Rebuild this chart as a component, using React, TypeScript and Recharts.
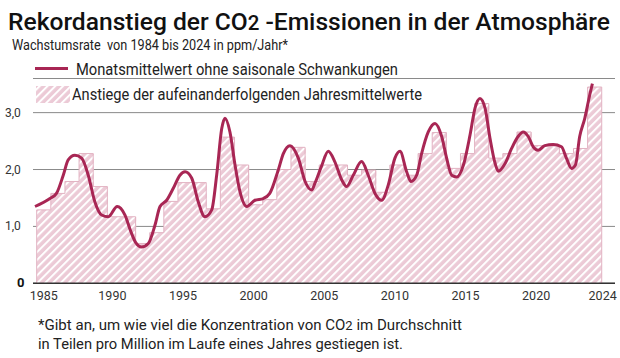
import React from 'react';
import { ComposedChart, Bar, Line, XAxis, YAxis, CartesianGrid, ReferenceLine } from 'recharts';

const years = [
  1985, 1986, 1987, 1988, 1989, 1990, 1991, 1992, 1993, 1994,
  1995, 1996, 1997, 1998, 1999, 2000, 2001, 2002, 2003, 2004,
  2005, 2006, 2007, 2008, 2009, 2010, 2011, 2012, 2013, 2014,
  2015, 2016, 2017, 2018, 2019, 2020, 2021, 2022, 2023, 2024,
];
const annualIncrease = [
  1.29, 1.58, 1.79, 2.28, 1.70, 1.17, 1.17, 0.70, 0.89, 1.44,
  1.77, 1.77, 1.31, 2.57, 2.08, 1.38, 1.47, 2.00, 2.39, 1.79,
  2.08, 2.08, 1.90, 1.99, 1.60, 2.08, 1.90, 2.28, 2.65, 2.02,
  2.28, 3.16, 2.20, 2.28, 2.66, 2.42, 2.42, 2.28, 2.37, 3.45,
];
const monthlyTimes = [
  1984.38, 1985.44, 1985.9, 1986.38, 1986.73, 1987.2, 1987.68, 1988.15, 1988.62, 1989.1,
  1989.57, 1990.2, 1990.75, 1991.15, 1991.5, 1991.93, 1992.4, 1992.87, 1993.23, 1993.7,
  1994.17, 1994.64, 1995.0, 1995.47, 1995.94, 1996.41, 1996.89, 1997.24, 1997.6, 1997.83,
  1998.18, 1998.54, 1998.89, 1999.37, 1999.95, 2000.54, 2001.0, 2001.6, 2001.96, 2002.43,
  2003.02, 2003.5, 2003.97, 2004.2, 2004.65, 2005.14, 2005.6, 2006.09, 2006.44, 2006.91,
  2007.5, 2007.97, 2008.45, 2008.92, 2009.39, 2009.86, 2010.22, 2010.69, 2011.0, 2011.4,
  2011.75, 2012.22, 2012.7, 2013.17, 2013.52, 2013.88, 2014.24, 2014.71, 2015.18, 2015.53,
  2015.88, 2016.24, 2016.59, 2016.95, 2017.18, 2017.65, 2018.12, 2018.58, 2018.94, 2019.3,
  2019.65, 2020.0, 2020.47, 2021.06, 2021.65, 2022.0, 2022.36, 2022.64, 2022.94, 2023.3,
  2023.65, 2023.84,
];
const monthlyValues = [
  1.35, 1.49, 1.58, 1.90, 2.17, 2.25, 2.20, 1.90, 1.43, 1.20,
  1.17, 1.35, 1.20, 0.92, 0.72, 0.64, 0.70, 1.02, 1.35, 1.46,
  1.67, 1.90, 1.96, 1.85, 1.43, 1.17, 1.29, 1.90, 2.72, 2.90,
  2.66, 2.08, 1.61, 1.35, 1.46, 1.49, 1.58, 1.99, 2.28, 2.42,
  2.20, 1.79, 1.64, 1.76, 2.05, 2.32, 2.14, 1.82, 1.70, 1.90,
  2.14, 1.90, 1.58, 1.46, 1.73, 2.20, 2.32, 1.96, 1.79, 1.90,
  2.28, 2.66, 2.81, 2.58, 2.20, 1.90, 1.87, 2.08, 2.61, 3.08,
  3.25, 3.08, 2.55, 2.11, 1.97, 2.10, 2.37, 2.58, 2.66, 2.58,
  2.40, 2.34, 2.42, 2.44, 2.40, 2.20, 2.02, 2.08, 2.58, 2.90,
  3.31, 3.51,
];
const xTicks = [1985, 1990, 1995, 2000, 2005, 2010, 2015, 2020, 2024];
const yTicks = [0, 1, 2, 3];
const yTickLabels = ['0', '1,0', '2,0', '3,0'];

const titleText = 'Rekordanstieg der CO';
const titleSub = '2';
const titleRest = ' -Emissionen in der Atmosphäre';
const subtitleText = 'Wachstumsrate  von 1984 bis 2024 in ppm/Jahr*';
const legendLine = 'Monatsmittelwert ohne saisonale Schwankungen';
const legendBars = 'Anstiege der aufeinanderfolgenden Jahresmittelwerte';
const footLine1a = '*Gibt an, um wie viel die Konzentration von CO';
const footLine1b = ' im Durchschnitt';
const footLine2 = 'in Teilen pro Million im Laufe eines Jahres gestiegen ist.';

const barData = years.map((year, i) => ({ year, value: annualIncrease[i] }));
const lineData = monthlyTimes.map((year, i) => ({ year, value: monthlyValues[i] }));

const LINE_COLOR = '#a82654';
const STRIPE = '#eccad6';
const OUTLINE = '#e2b2c2';
const FONT = "'Roboto', 'Liberation Sans', sans-serif";

const HatchDefs = ({ id }: { id: string }) => (
  <defs>
    <pattern id={id} patternUnits="userSpaceOnUse" width={5.5} height={5.5} patternTransform="rotate(45)">
      <rect x={0} y={0} width={5.5} height={5.5} fill={STRIPE} />
      <rect x={0} y={0} width={2} height={5.5} fill="#ffffff" />
    </pattern>
  </defs>
);

const HatchBar = (props: any) => {
  const { x, y, width, height, index } = props;
  const v = annualIncrease[index];
  const base = y + height;
  const perUnit = v > 0 ? height / v : 0;
  const prevTop = index > 0 ? base - annualIncrease[index - 1] * perUnit : base;
  const isLast = index === annualIncrease.length - 1;
  let d = `M${x},${prevTop}L${x},${y}L${x + width},${y}`;
  if (isLast) d += `L${x + width},${base}`;
  return (
    <g>
      <rect x={x} y={y} width={isLast ? width : width + 0.6} height={height} fill="url(#hatchMain)" />
      <path d={d} fill="none" stroke={OUTLINE} strokeWidth={1} />
    </g>
  );
};

const YTick = (props: any) => {
  const { y, payload } = props;
  const idx = yTicks.indexOf(payload.value);
  const isZero = payload.value === 0;
  return (
    <text
      x={isZero ? 17 : 5}
      y={y}
      dy={4}
      fontFamily={FONT}
      fontSize={isZero ? 13 : 12}
      fontWeight={isZero ? 700 : 400}
      fill={isZero ? '#111' : '#333'}
    >
      {yTickLabels[idx]}
    </text>
  );
};

const XTick = (props: any) => {
  const { x, y, payload, index } = props;
  const last = payload.value === xTicks[xTicks.length - 1];
  return (
    <text
      x={x}
      y={y}
      dy={9}
      dx={last ? 8 : index === 0 ? 0 : -2}
      textAnchor="middle"
      fontFamily={FONT}
      fontSize={12.5}
      fill="#333"
    >
      {payload.value}
    </text>
  );
};

export default function App() {
  return (
    <div style={{ position: 'absolute', left: 0, top: 0, width: 620, height: 358, background: '#fff', overflow: 'hidden' }}>
      <ComposedChart
        width={620}
        height={358}
        data={barData}
        margin={{ top: 78.5, right: 5, bottom: 44.7, left: 0 }}
      >
        <HatchDefs id="hatchMain" />
        <CartesianGrid horizontal vertical={false} stroke="#8a8a8a" strokeWidth={1} />
        <XAxis
          xAxisId="bars"
          dataKey="year"
          type="number"
          domain={[1984.238, 2025.44]}
          allowDataOverflow
          ticks={xTicks}
          tick={<XTick />}
          tickLine={false}
          axisLine={false}
          height={30}
          interval={0}
        />
        <XAxis
          xAxisId="line"
          dataKey="year"
          type="number"
          domain={[1984.238, 2025.44]}
          allowDataOverflow
          hide
        />
        <YAxis
          type="number"
          domain={[0, 3.6]}
          ticks={yTicks}
          tick={<YTick />}
          tickLine={false}
          axisLine={false}
          width={33}
          interval={0}
        />
        <Bar
          xAxisId="bars"
          dataKey="value"
          barSize={14.125}
          shape={<HatchBar />}
          isAnimationActive={false}
        />
        <ReferenceLine xAxisId="bars" y={0} stroke="#333" strokeWidth={1.6} />
        <Line
          xAxisId="line"
          data={lineData}
          dataKey="value"
          type="monotone"
          stroke={LINE_COLOR}
          strokeWidth={3}
          dot={false}
          activeDot={false}
          isAnimationActive={false}
        />
      </ComposedChart>
      <svg width={620} height={358} style={{ position: 'absolute', left: 0, top: 0, pointerEvents: 'none' }}>
        <HatchDefs id="hatchLegend" />
        <text x={8} y={30} fontFamily={FONT} fontSize={24} fontWeight={500} fill="#111" textLength={602} lengthAdjust="spacingAndGlyphs">
          {titleText}
          <tspan fontSize={20}>{titleSub}</tspan>
          {titleRest}
        </text>
        <text x={12} y={49.5} fontFamily={FONT} fontSize={14} fill="#222" textLength={276} lengthAdjust="spacingAndGlyphs" style={{ whiteSpace: 'pre' }}>
          {subtitleText}
        </text>
        <line x1={35} y1={68.5} x2={68} y2={68.5} stroke={LINE_COLOR} strokeWidth={3} />
        <text x={76} y={75} fontFamily={FONT} fontSize={16} fill="#222" textLength={322} lengthAdjust="spacingAndGlyphs">
          {legendLine}
        </text>
        <rect x={36} y={86} width={34} height={17} fill="url(#hatchLegend)" />
        <text x={72} y={100} fontFamily={FONT} fontSize={16} fill="#222" textLength={350} lengthAdjust="spacingAndGlyphs">
          {legendBars}
        </text>
        <text x={38} y={330} fontFamily={FONT} fontSize={15} fill="#222" textLength={424} lengthAdjust="spacingAndGlyphs">
          {footLine1a}
          <tspan fontSize={13}>2</tspan>
          {footLine1b}
        </text>
        <text x={38} y={349} fontFamily={FONT} fontSize={15} fill="#222" textLength={365} lengthAdjust="spacingAndGlyphs">
          {footLine2}
        </text>
      </svg>
    </div>
  );
}
